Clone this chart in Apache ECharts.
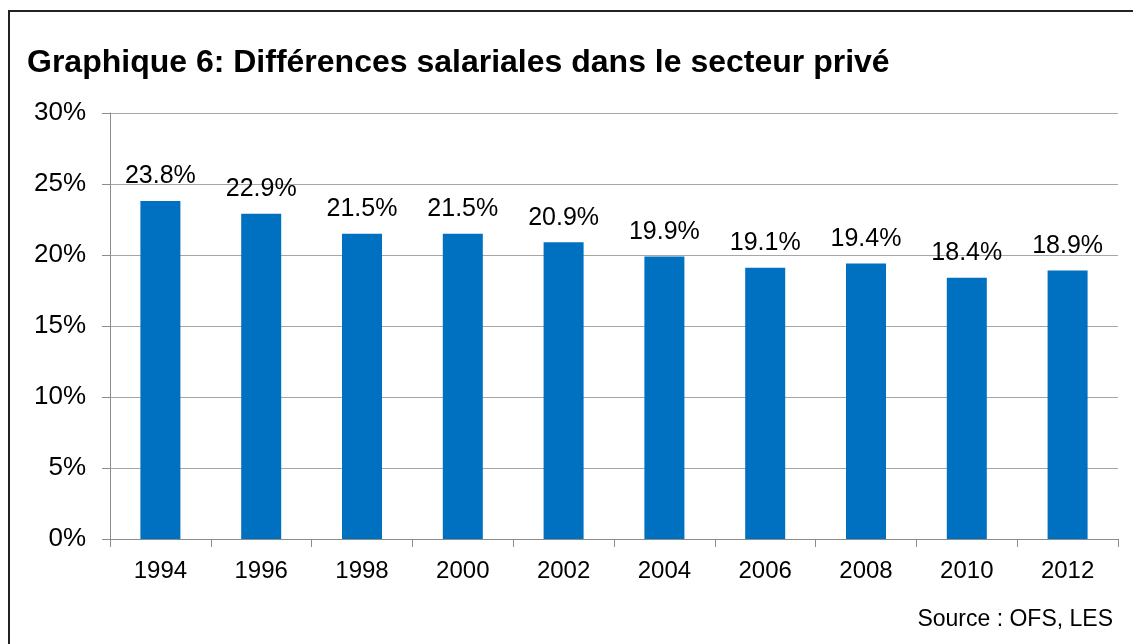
<!DOCTYPE html>
<html>
<head>
<meta charset="utf-8">
<script src="https://cdn.jsdelivr.net/npm/echarts@6/dist/echarts.min.js"></script>
<style>
  html, body { margin: 0; padding: 0; background: #fff; }
  #chart { width: 1133px; height: 644px; }
</style>
</head>
<body>
<div id="chart"></div>
<script>
// years on the x axis
const years = ['1994', '1996', '1998', '2000', '2002', '2004', '2006', '2008', '2010', '2012']
// wage gap in %, private sector
const gap = [23.8, 22.9, 21.5, 21.5, 20.9, 19.9, 19.1, 19.4, 18.4, 18.9]
const yTicks = [0, 5, 10, 15, 20, 25, 30]

const font = 'Arial, "Liberation Sans", sans-serif'
const chart = echarts.init(document.getElementById('chart'))

chart.setOption({
  animation: false,
  title: {
    text: 'Graphique 6: Différences salariales dans le secteur privé',
    left: 22,
    top: 42,
    textStyle: { fontFamily: font, fontSize: 32, fontWeight: 'bold', color: '#000' }
  },
  graphic: [
    {
      // frame around the chart, cut by the picture on the right and bottom
      type: 'rect',
      shape: { x: 9, y: 11, width: 1140, height: 650 },
      style: { fill: 'none', stroke: '#222', lineWidth: 2 }
    },
    {
      type: 'text',
      right: 20,
      top: 608,
      style: { text: 'Source : OFS, LES', font: '23px ' + font, fill: '#000' }
    }
  ],
  grid: { left: 110, right: 15, top: 113, bottom: 105 },
  xAxis: {
    type: 'category',
    data: years,
    axisLine: { lineStyle: { color: '#8c8c8c', width: 1 } },
    axisTick: { show: true, length: 8, lineStyle: { color: '#8c8c8c' } },
    axisLabel: { fontFamily: font, fontSize: 24, color: '#000', margin: 20 }
  },
  yAxis: {
    type: 'value',
    min: yTicks[0],
    max: yTicks[yTicks.length - 1],
    interval: 5,
    axisLine: { show: true, lineStyle: { color: '#8c8c8c', width: 1 } },
    axisTick: { show: true, length: 8, lineStyle: { color: '#8c8c8c' } },
    splitLine: { lineStyle: { color: '#a6a6a6', width: 1 } },
    axisLabel: {
      fontFamily: font, fontSize: 26, color: '#000', margin: 24,
      formatter: v => v + '%'
    }
  },
  series: [{
    type: 'bar',
    data: gap,
    barWidth: 40,
    itemStyle: { color: '#0070C0' },
    label: {
      show: true,
      position: 'top',
      distance: 12,
      fontFamily: font,
      fontSize: 25,
      color: '#000',
      formatter: p => p.value.toFixed(1) + '%'
    }
  }]
})
</script>
</body>
</html>
